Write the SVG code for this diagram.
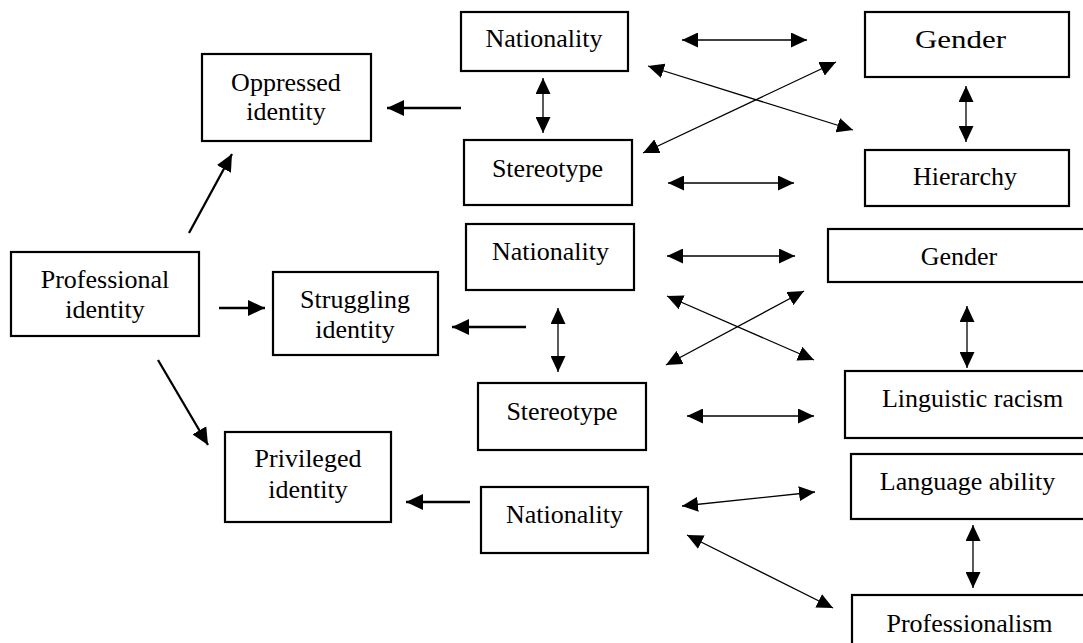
<svg xmlns="http://www.w3.org/2000/svg" width="1083" height="643" viewBox="0 0 1083 643">
<style>
.box{fill:#fff;stroke:#000;stroke-width:2.2}
.lbl{font-family:"Liberation Serif","Times New Roman",serif;font-size:26px;fill:#000;text-anchor:middle}
.thick{stroke:#000;stroke-width:2.3;fill:none;marker-end:url(#big)}
.thin{stroke:#000;stroke-width:1.3;fill:none;marker-start:url(#small);marker-end:url(#small)}
</style>
<defs>
<marker id="big" markerUnits="userSpaceOnUse" markerWidth="17" markerHeight="16" refX="17" refY="8" orient="auto-start-reverse"><path d="M0,0 L17,8 L0,16 z" fill="#000"/></marker>
<marker id="small" markerUnits="userSpaceOnUse" markerWidth="16" markerHeight="15" refX="16" refY="7.5" orient="auto-start-reverse"><path d="M0,0 L16,7.5 L0,15 z" fill="#000"/></marker>
</defs>
<rect width="1083" height="643" fill="#fff"/>

<g id="oppressed"><rect class="box" x="202" y="54" width="169" height="87"/><text class="lbl" x="286" y="91">Oppressed</text><text class="lbl" x="286" y="120">identity</text></g>
<g id="nationality1"><rect class="box" x="461" y="12" width="167" height="59"/><text class="lbl" x="544" y="47">Nationality</text></g>
<g id="stereotype1"><rect class="box" x="464" y="140" width="168" height="65"/><text class="lbl" x="547.5" y="177">Stereotype</text></g>
<g id="gender1"><rect class="box" x="865" y="12" width="204" height="65"/><text class="lbl" x="960.5" y="48" textLength="91" lengthAdjust="spacingAndGlyphs">Gender</text></g>
<g id="hierarchy"><rect class="box" x="865" y="150" width="204" height="56"/><text class="lbl" x="965" y="185">Hierarchy</text></g>
<g id="professional"><rect class="box" x="11" y="252" width="188" height="84"/><text class="lbl" x="105" y="288">Professional</text><text class="lbl" x="105" y="318">identity</text></g>
<g id="struggling"><rect class="box" x="273" y="272" width="165" height="83"/><text class="lbl" x="355" y="308">Struggling</text><text class="lbl" x="355" y="338">identity</text></g>
<g id="nationality2"><rect class="box" x="466" y="224" width="168" height="66"/><text class="lbl" x="550.5" y="260">Nationality</text></g>
<g id="gender2"><rect class="box" x="828" y="229" width="270" height="53"/><text class="lbl" x="959" y="265">Gender</text></g>
<g id="stereotype2"><rect class="box" x="478" y="383" width="168" height="67"/><text class="lbl" x="562" y="420">Stereotype</text></g>
<g id="linguistic"><rect class="box" x="845" y="371" width="253" height="67"/><text class="lbl" x="972.5" y="407">Linguistic racism</text></g>
<g id="privileged"><rect class="box" x="225" y="432" width="166" height="90"/><text class="lbl" x="308" y="467">Privileged</text><text class="lbl" x="308" y="498">identity</text></g>
<g id="nationality3"><rect class="box" x="481" y="487" width="167" height="66"/><text class="lbl" x="564.5" y="523">Nationality</text></g>
<g id="language"><rect class="box" x="851" y="454" width="247" height="65"/><text class="lbl" x="967.5" y="490">Language ability</text></g>
<g id="professionalism"><rect class="box" x="852" y="595" width="246" height="60"/><text class="lbl" x="969.5" y="632">Professionalism</text></g>

<g id="connectors">
<line class="thick" x1="461" y1="108" x2="387" y2="108"/>
<line class="thick" x1="189" y1="233" x2="232" y2="154"/>
<line class="thick" x1="219" y1="308" x2="265" y2="308"/>
<line class="thick" x1="158" y1="360" x2="208" y2="445"/>
<line class="thick" x1="526" y1="327" x2="452" y2="327"/>
<line class="thick" x1="470" y1="502" x2="406" y2="502"/>

<line class="thin" x1="682" y1="40" x2="807" y2="40"/>
<line class="thin" x1="543" y1="78" x2="543" y2="133"/>
<line class="thin" x1="648" y1="66" x2="853" y2="130"/>
<line class="thin" x1="643" y1="153" x2="836" y2="62"/>
<line class="thin" x1="668" y1="183" x2="794" y2="183"/>
<line class="thin" x1="966" y1="86" x2="966" y2="142"/>

<line class="thin" x1="667" y1="256" x2="795" y2="256"/>
<line class="thin" x1="667" y1="296" x2="814" y2="360"/>
<line class="thin" x1="666" y1="365" x2="804" y2="291"/>
<line class="thin" x1="558" y1="308" x2="558" y2="372"/>
<line class="thin" x1="967" y1="306" x2="967" y2="368"/>
<line class="thin" x1="687" y1="416" x2="814" y2="416"/>

<line class="thin" x1="682" y1="506" x2="815" y2="492"/>
<line class="thin" x1="687" y1="535" x2="833" y2="608"/>
<line class="thin" x1="973" y1="525" x2="973" y2="588"/>
</g>
</svg>
